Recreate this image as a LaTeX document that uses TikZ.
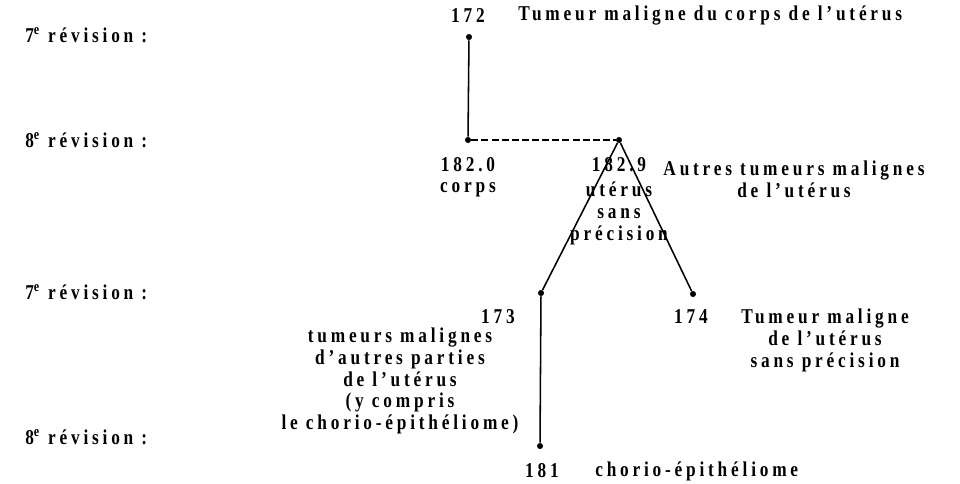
\documentclass[tikz,border=0pt]{standalone}
\usepackage{fontspec}
\setmainfont{Liberation Serif}[FakeStretch=0.82,LetterSpace=18]
\begin{document}
\begin{tikzpicture}[x=0.025cm,y=-0.025cm,
  dot/.style={circle,fill,inner sep=0pt,minimum size=4.3pt},
  lab/.style={inner sep=0pt,font=\fontsize{15}{15.5}\selectfont\bfseries},
  txt/.style={lab,align=center},
  link/.style={line width=1.1pt}]
\useasboundingbox (0,0) rectangle (960,484);
% revisions
\node [lab,anchor=west] (r1) at (25,35)  {7\textsuperscript{e} révision :};
\node [lab,anchor=west] (r2) at (25,140) {8\textsuperscript{e} révision :};
\node [lab,anchor=west] (r3) at (25,292) {7\textsuperscript{e} révision :};
\node [lab,anchor=west] (r4) at (25,437) {8\textsuperscript{e} révision :};
% points
\node [dot] (p172) at (469,37)  {};
\node [dot] (p1820) at (468,140) {};
\node [dot] (p1829) at (619,140) {};
\node [dot] (p173) at (541,293) {};
\node [dot] (p174) at (693,294) {};
\node [dot] (p181) at (540,446) {};
% labels
\node [lab] (n172) at (468,16) {172};
\node [lab,anchor=west] (t172) at (518,16) {Tumeur maligne du corps de l'utérus};
\node [lab] (n1820) at (468,165) {182.0};
\node [lab] (t1820) at (468,190) {corps};
\node [lab] (n1829) at (619,165) {182.9};
\node [txt,anchor=north] (t1829) at (619,182) {utérus\\sans\\précision};
\node [txt] (t182) at (794,179) {Autres tumeurs malignes\\de l'utérus};
\node [lab,anchor=east] (n173) at (515,317) {173};
\node [txt] (t173) at (400,381) {tumeurs malignes\\d'autres parties\\de l'utérus\\(y compris\\le chorio-épithéliome)};
\node [lab] (n174) at (691,317) {174};
\node [txt,anchor=north] (t174) at (825,309) {Tumeur maligne\\de l'utérus\\sans précision};
\node [lab] (n181) at (542,471) {181};
\node [lab,anchor=west] (t181) at (595,471) {chorio-épithéliome};
% connectors
\draw [link] (p172) -- (p1820);
\draw [link,dash pattern=on 5pt off 2.2pt] (p1820) -- (p1829);
\draw [link] (p1829) -- (p173);
\draw [link] (p1829) -- (p174);
\draw [link] (p173) -- (p181);
\end{tikzpicture}
\end{document}
